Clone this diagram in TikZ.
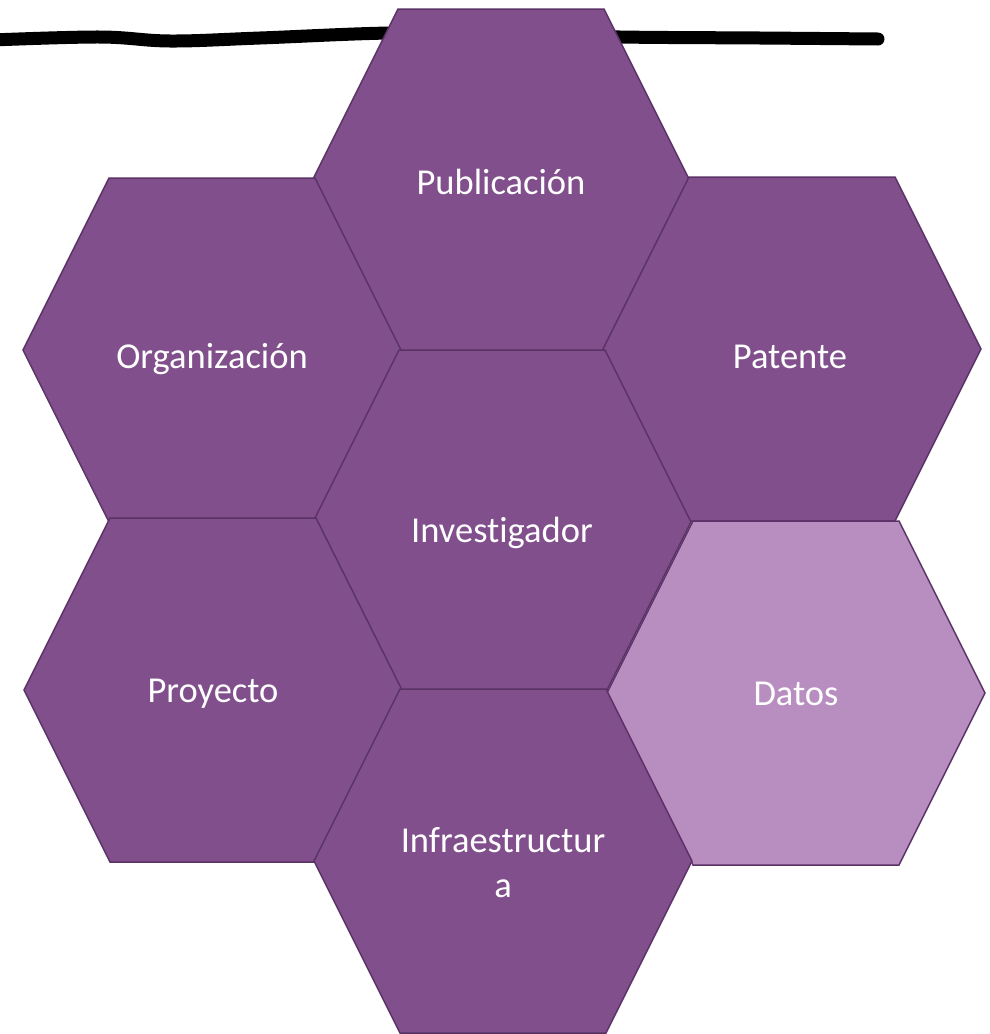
\documentclass[tikz,border=0pt]{standalone}
\usepackage{fontspec}
\setmainfont[RawFeature=-liga]{Carlito}
\definecolor{hexdark}{RGB}{128,79,140}
\definecolor{hexlight}{RGB}{184,142,192}
\definecolor{hexline}{RGB}{90,50,102}
\newcommand\hexcellat[3]{%
  \filldraw[hexcell,fill=#3] (#1-189,#2) -- (#1-103,#2-172) -- (#1+103,#2-172)
    -- (#1+189,#2) -- (#1+103,#2+172) -- (#1-103,#2+172) -- cycle;}
\begin{document}
\begin{tikzpicture}[x=1pt,y=-1pt,
  hexcell/.style={draw=hexline,line width=1.5pt,line join=miter},
  lbl/.style={text=white,font=\fontsize{36.5}{45}\selectfont,anchor=base,inner sep=0pt},
  marker/.style={draw=black,line width=13pt,line cap=round,line join=round}]
\useasboundingbox (0,0) rectangle (989,1034);
% marker stroke across the top
\draw[marker] plot[smooth,tension=0.6] coordinates {(-8,40) (100,37) (170,41) (260,38) (390,33) (500,34) (620,37) (760,38) (878,39)};
% hexagons
\hexcellat{501}{181}{hexdark}
\hexcellat{212}{350}{hexdark}
\hexcellat{792}{349}{hexdark}
\hexcellat{502}{522}{hexdark}
\hexcellat{213}{690}{hexdark}
\hexcellat{796}{693}{hexlight}
\hexcellat{503}{861}{hexdark}
% labels
\node[lbl] (pub) at (501,194) {Publicación};
\node[lbl] (org) at (212,368) {Organización};
\node[lbl] (pat) at (790,368) {Patente};
\node[lbl] (inv) at (502,542) {Investigador};
\node[lbl] (pro) at (213,702) {Proyecto};
\node[lbl] (dat) at (796,705) {Datos};
\node[lbl] (inf1) at (503,852) {Infraestructur};
\node[lbl] (inf2) at (503,897) {a};
\end{tikzpicture}
\end{document}
